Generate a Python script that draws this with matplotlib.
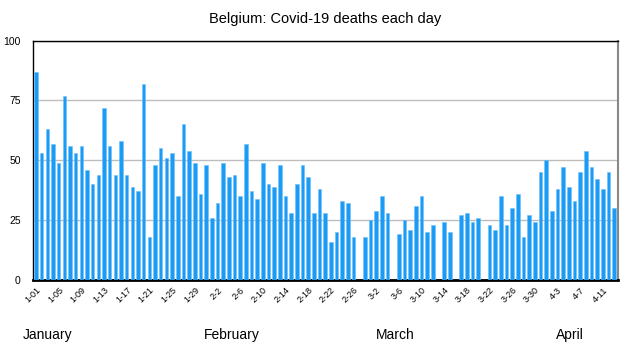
import matplotlib.pyplot as plt
import matplotlib.transforms as mtransforms
import numpy as np

# daily deaths, Jan 1 .. Apr 13 (0 = no report that day)
deaths = [
    87, 53, 63, 57, 49, 77, 56, 53, 56, 46, 40, 44, 72, 56, 44, 58, 44, 39, 37, 82,
    18, 48, 55, 51, 53, 35, 65, 54, 49, 36, 48,
    26, 32, 49, 43, 44, 35, 57, 37, 34, 49, 40, 39, 48, 35, 28, 40, 48, 43, 28, 38,
    28, 16, 20, 33, 32, 18, 0, 18,
    25, 29, 35, 28, 0, 19, 25, 21, 31, 35, 20, 23, 0, 24, 20, 0, 27, 28, 24, 26, 0,
    23, 21, 35, 23, 30, 36, 18, 27, 24, 45,
    50, 29, 38, 47, 39, 33, 45, 54, 47, 42, 38, 45, 30,
]
tick_labels = ['1-01', '1-05', '1-09', '1-13', '1-17', '1-21', '1-25', '1-29',
               '2-2', '2-6', '2-10', '2-14', '2-18', '2-22', '2-26',
               '3-2', '3-6', '3-10', '3-14', '3-18', '3-22', '3-26', '3-30',
               '4-3', '4-7', '4-11']
months = ['January', 'February', 'March', 'April']
month_pos = [2, 34.6, 63.4, 94.2]

plt.rcParams['font.family'] = ['Liberation Sans', 'DejaVu Sans']

fig = plt.figure(figsize=(6.4, 3.53), dpi=100)
ax = fig.add_axes([0.052, 0.207, 0.913, 0.678])

x = np.arange(len(deaths))
vals = np.array(deaths, dtype=float)
vals[vals == 0] = np.nan  # missing days: leave the slot empty
ax.bar(x, vals, width=0.6, color='#1A9BF5', edgecolor='#6EC0FA', linewidth=0.4, zorder=3)

ax.set_xlim(-0.5, 102.6)
ax.set_ylim(0, 100)
ax.set_yticks([0, 25, 50, 75, 100])
ax.yaxis.grid(True, color='#BDBDBD', linewidth=1, zorder=0)
ax.tick_params(axis='y', length=0, pad=9, labelsize=7.5)

ax.set_xticks(x[::4][:len(tick_labels)])
ax.set_xticklabels(tick_labels, rotation=45, ha='right', rotation_mode='anchor', fontsize=6.5)
ax.tick_params(axis='x', length=0, pad=4)

for s in ['left', 'top']:
    ax.spines[s].set_color('black')
    ax.spines[s].set_linewidth(1)
ax.spines['bottom'].set_linewidth(2)
ax.spines['right'].set_color('#888888')
ax.spines['right'].set_linewidth(1.5)

trans = mtransforms.blended_transform_factory(ax.transData, fig.transFigure)
for name, pos in zip(months, month_pos):
    ax.text(pos, 0.05, name, transform=trans, ha='center', va='center', fontsize=10)

fig.text(0.508, 0.945, 'Belgium: Covid-19 deaths each day', ha='center', va='center', fontsize=10.5)

fig.savefig('out.png', dpi=100)
